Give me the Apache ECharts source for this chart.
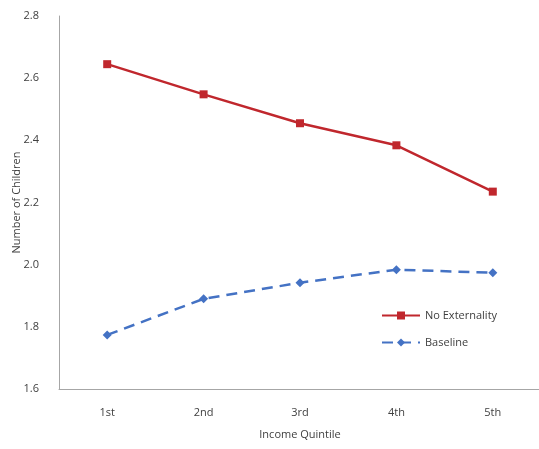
<!DOCTYPE html>
<html>
<head>
<meta charset="utf-8">
<script src="https://cdn.jsdelivr.net/npm/echarts@6/dist/echarts.min.js"></script>
<style>html,body{margin:0;padding:0;background:#fff;}#c{width:539px;height:449px;}</style>
</head>
<body>
<div id="c"></div>
<script>
var categories = ['1st', '2nd', '3rd', '4th', '5th'];
var noExternality = [2.645, 2.548, 2.455, 2.384, 2.235];
var baseline = [1.774, 1.890, 1.942, 1.984, 1.974];
var yTicks = { min: 1.6, max: 2.8, interval: 0.2 };

var chart = echarts.init(document.getElementById('c'));
chart.setOption({
  backgroundColor: '#fff',
  animation: false,
  textStyle: { fontFamily: 'Open Sans' },
  grid: { left: 59, right: -2, top: 16, bottom: 60, containLabel: false, outerBoundsMode: 'none' },
  legend: {
    orient: 'vertical',
    left: 376, top: 305,
    itemGap: 16,
    itemWidth: 38, itemHeight: 10,
    textStyle: { fontSize: 11, color: '#404040' },
    data: ['No Externality', 'Baseline']
  },
  xAxis: {
    type: 'category',
    data: categories,
    boundaryGap: true,
    name: 'Income Quintile',
    nameLocation: 'middle',
    nameGap: 40,
    nameTextStyle: { fontSize: 11, color: '#404040' },
    axisLine: { lineStyle: { color: '#a6a6a6', width: 1 } },
    axisTick: { show: false },
    axisLabel: { fontSize: 11, color: '#404040', margin: 18 }
  },
  yAxis: {
    type: 'value',
    min: yTicks.min, max: yTicks.max, interval: yTicks.interval,
    name: 'Number of Children',
    nameLocation: 'middle',
    nameGap: 37,
    nameMoveOverlap: false,
    nameTextStyle: { fontSize: 11, color: '#404040' },
    axisLine: { show: true, lineStyle: { color: '#a6a6a6', width: 1 } },
    axisTick: { show: false },
    splitLine: { show: false },
    axisLabel: { fontSize: 11, color: '#404040', margin: 20, formatter: function (v) { return v.toFixed(1); } }
  },
  series: [
    {
      name: 'No Externality', type: 'line', data: noExternality,
      symbol: 'rect', symbolSize: 8,
      lineStyle: { color: '#c0272d', width: 2.5 },
      itemStyle: { color: '#c0272d' }
    },
    {
      name: 'Baseline', type: 'line', data: baseline,
      symbol: 'diamond', symbolSize: 9,
      lineStyle: { color: '#4472c4', width: 2.5, type: [11, 7] },
      itemStyle: { color: '#4472c4' }
    }
  ]
});
</script>
</body>
</html>
